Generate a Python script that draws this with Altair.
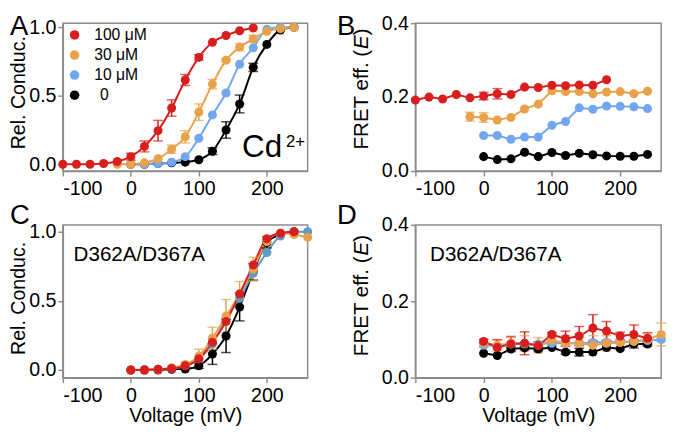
import altair as alt
import pandas as pd

FONT = "Liberation Sans"
RED, ORANGE, BLUE, BLUE_C, BLACK = "#d81e1e", "#e9a24c", "#72a7ef", "#5e9bc6", "#000000"
SERIES = ["100 μM", "30 μM", "10 μM", "0"]
LEGEND_INDENT = [0, 0, 0, 6]
GREY = "#8c8c8c"

# ---------------- Panel A: Rel. conductance with Cd2+ ----------------
A_v_red = list(range(-100, 181, 20))
A_red = [0.0, 0.0, 0.0, 0.005, 0.02, 0.055, 0.13, 0.245, 0.41, 0.615, 0.78, 0.89, 0.94, 0.975, 0.995]
A_red_err = [0, 0, 0, 0, 0, 0.025, 0.04, 0.075, 0.06, 0.04, 0.02, 0, 0, 0, 0]
A_v_org = list(range(-20, 241, 20))
A_org = [0.0, 0.0, 0.01, 0.04, 0.11, 0.2, 0.38, 0.585, 0.76, 0.855, 0.915, 0.97, 0.99, 1.0]
A_org_err = [0, 0, 0, 0, 0.03, 0.045, 0.06, 0.035, 0.01, 0.025, 0.025, 0, 0, 0]
A_v_blu = list(range(0, 241, 20))
A_blu = [0.0, 0.0, 0.005, 0.015, 0.055, 0.19, 0.36, 0.52, 0.73, 0.85, 0.985, 1.0, 1.0]
A_v_blk = list(range(0, 241, 20))
A_blk = [0.0, 0.0, 0.005, 0.01, 0.015, 0.033, 0.095, 0.25, 0.44, 0.707, 0.875, 0.98, 1.0]
A_blk_err = [0, 0, 0, 0, 0, 0, 0.025, 0.06, 0.065, 0.03, 0, 0, 0]

# ---------------- Panel B: FRET efficiency with Cd2+ ----------------
B_v_red = list(range(-100, 181, 20))
B_red = [0.192, 0.2, 0.195, 0.207, 0.198, 0.203, 0.209, 0.207, 0.227, 0.226, 0.232, 0.231, 0.233, 0.232, 0.247]
B_red_err = [0, 0, 0, 0, 0, 0.01, 0.014, 0, 0, 0, 0, 0, 0, 0, 0]
B_v_org = list(range(-20, 241, 20))
B_org = [0.147, 0.145, 0.138, 0.145, 0.168, 0.181, 0.217, 0.215, 0.215, 0.209, 0.214, 0.215, 0.209, 0.216]
B_org_err = [0.012, 0.013, 0, 0, 0, 0, 0, 0, 0, 0, 0, 0, 0, 0]
B_v_blu = list(range(0, 241, 20))
B_blu = [0.096, 0.096, 0.086, 0.092, 0.092, 0.124, 0.134, 0.171, 0.167, 0.176, 0.175, 0.174, 0.169]
B_v_blk = list(range(0, 241, 20))
B_blk = [0.039, 0.031, 0.033, 0.051, 0.039, 0.050, 0.042, 0.048, 0.044, 0.041, 0.040, 0.040, 0.045]

# ---------------- Panel C: Rel. conductance, D362A/D367A ----------------
C_v_red = list(range(0, 241, 20))
C_red = [0.0, 0.0, 0.005, 0.01, 0.03, 0.08, 0.2, 0.35, 0.55, 0.76, 0.95, 0.99, 1.0]
C_v_org = list(range(0, 261, 20))
C_org = [0.0, 0.0, 0.003, 0.015, 0.04, 0.1, 0.23, 0.39, 0.55, 0.73, 0.93, 0.99, 0.98, 0.96]
C_org_err = [0, 0, 0, 0, 0.015, 0.05, 0.08, 0.12, 0.09, 0.085, 0.03, 0, 0, 0]
C_v_blu = list(range(0, 261, 20))
C_blu = [0.0, 0.003, 0.005, 0.01, 0.03, 0.08, 0.19, 0.37, 0.52, 0.7, 0.85, 0.97, 1.0, 1.0]
C_v_blk = list(range(0, 241, 20))
C_blk = [0.0, 0.0, 0.0, 0.005, 0.007, 0.03, 0.115, 0.246, 0.455, 0.71, 0.923, 0.98, 1.0]
C_blk_err = [0, 0, 0, 0, 0, 0.02, 0.075, 0.12, 0.1, 0.06, 0.04, 0, 0]

# ---------------- Panel D: FRET efficiency, D362A/D367A ----------------
D_v_red = list(range(0, 241, 20))
D_red = [0.095, 0.079, 0.088, 0.09, 0.084, 0.113, 0.102, 0.109, 0.13, 0.122, 0.109, 0.113, 0.103]
D_red_err = [0.005, 0.02, 0.02, 0.03, 0.01, 0.005, 0.02, 0.025, 0.035, 0.025, 0.01, 0.025, 0.015]
D_v_org = list(range(0, 261, 20))
D_org = [0.09, 0.085, 0.09, 0.09, 0.085, 0.098, 0.09, 0.09, 0.085, 0.09, 0.092, 0.095, 0.1, 0.113]
D_org_err = [0, 0.015, 0.015, 0.02, 0.02, 0.015, 0.02, 0.025, 0.025, 0.02, 0.02, 0.015, 0.015, 0.03]
D_v_blu = list(range(0, 261, 20))
D_blu = [0.085, 0.083, 0.088, 0.088, 0.088, 0.09, 0.09, 0.09, 0.092, 0.093, 0.094, 0.095, 0.097, 0.1]
D_blu_err = [0.005] * 14
D_v_blk = list(range(0, 241, 20))
D_blk = [0.064, 0.058, 0.075, 0.078, 0.075, 0.079, 0.067, 0.067, 0.067, 0.079, 0.076, 0.088, 0.088]
D_blk_err = [0, 0, 0.005, 0.005, 0.005, 0, 0.005, 0.01, 0, 0, 0, 0.01, 0.005]


def frame(series_list):
    rows = []
    for name, vs, ys, errs in series_list:
        for i, (v, y) in enumerate(zip(vs, ys)):
            rows.append({"series": name, "v": v, "y": y, "err": errs[i] if errs else 0})
    return pd.DataFrame(rows)


def txt(s, x, y, size, align="left", angle=0, italic=False, baseline="alphabetic"):
    return alt.Chart(pd.DataFrame({"t": [s]})).mark_text(
        font=FONT, fontSize=size, align=align, baseline=baseline, angle=angle,
        fontStyle="italic" if italic else "normal", color="black"
    ).encode(x=alt.value(x), y=alt.value(y), text="t:N")


def legend_entries(labels, colors, indents, x0, y0, step):
    parts = []
    for i, (lab, c, ind) in enumerate(zip(labels, colors, indents)):
        parts.append(alt.Chart(pd.DataFrame({"t": [lab]})).mark_circle(size=95, opacity=1, color=c)
                     .encode(x=alt.value(x0), y=alt.value(y0 + step * i)))
        parts.append(txt(lab, x0 + 20 + ind, y0 + step * i, 16, baseline="middle"))
    return parts


def panel(df, ydom, yvals, colors, w, h, smooth, xtitle, extras):
    xaxis = alt.Axis(values=[-100, 0, 100, 200], labelExpr="'' + datum.value", title=xtitle)
    xenc = alt.X("v:Q", scale=alt.Scale(domain=[-100, 260], nice=False, zero=False), axis=xaxis)
    yaxis = alt.Axis(values=yvals, format=".1f", title=None)
    yscale = alt.Scale(domain=ydom, nice=False, zero=False)
    col = alt.Color("series:N", scale=alt.Scale(domain=SERIES, range=colors), legend=None)
    base = alt.Chart(df)
    lines = base.mark_line(strokeWidth=2, interpolate="monotone" if smooth else "linear").encode(
        x=xenc, y=alt.Y("y:Q", scale=yscale, axis=yaxis), color=col)
    eb = base.transform_filter("datum.err > 0").transform_calculate(
        lo="datum.y - datum.err", hi="datum.y + datum.err")
    rules = eb.mark_rule(strokeWidth=1.5).encode(
        x=xenc, y=alt.Y("lo:Q", scale=yscale, axis=yaxis), y2=alt.Y2("hi:Q"), color=col)
    caps = eb.transform_fold(["lo", "hi"], as_=["k", "e"]).mark_tick(
        orient="horizontal", size=10, thickness=1.5).encode(
        x=xenc, y=alt.Y("e:Q", scale=yscale, axis=yaxis), color=col)
    pts = base.mark_circle(size=85, opacity=1).encode(
        x=xenc, y=alt.Y("y:Q", scale=yscale, axis=yaxis), color=col)
    return alt.layer(lines, rules, caps, pts, *extras).properties(width=w, height=h)


ser_colors = [RED, ORANGE, BLUE, BLACK]
ser_colors_c = [RED, ORANGE, BLUE_C, BLACK]

dfA = frame([(SERIES[3], A_v_blk, A_blk, A_blk_err), (SERIES[2], A_v_blu, A_blu, None),
             (SERIES[1], A_v_org, A_org, A_org_err), (SERIES[0], A_v_red, A_red, A_red_err)])
dfB = frame([(SERIES[3], B_v_blk, B_blk, None), (SERIES[2], B_v_blu, B_blu, None),
             (SERIES[1], B_v_org, B_org, B_org_err), (SERIES[0], B_v_red, B_red, B_red_err)])
dfC = frame([(SERIES[3], C_v_blk, C_blk, C_blk_err), (SERIES[2], C_v_blu, C_blu, None),
             (SERIES[1], C_v_org, C_org, C_org_err), (SERIES[0], C_v_red, C_red, None)])
dfD = frame([(SERIES[3], D_v_blk, D_blk, D_blk_err), (SERIES[2], D_v_blu, D_blu, D_blu_err),
             (SERIES[1], D_v_org, D_org, D_org_err), (SERIES[0], D_v_red, D_red, D_red_err)])

W1, W2, HT, HB = 250, 251, 151, 156


def fret_title(yc):
    return [txt("FRET eff. (", -48, yc + 62, 21, angle=270),
            txt("E", -48, yc + 62 - 102.7, 21, angle=270, italic=True),
            txt(")", -48, yc + 62 - 116.7, 21, angle=270)]


A = panel(dfA, [-0.05, 1.03], [0, 0.5, 1.0], ser_colors, W1, HT, True, None,
          [txt("A", -54, 12, 28), txt("Rel. Conduc.", -39, 71, 20, align="center", angle=270),
           txt("Cd", 183, 137, 32), txt("2+", 228, 126, 17)]
          + legend_entries(SERIES, ser_colors, LEGEND_INDENT, 12, 12, 20.5))
B = panel(dfB, [0, 0.4], [0, 0.2, 0.4], ser_colors, W2, HT, False, None,
          [txt("B", -80, 12, 28)] + fret_title(67))
C = panel(dfC, [-0.056, 1.05], [0, 0.5, 1.0], ser_colors_c, W1, HB, True, "Voltage (mV)",
          [txt("C", -54, -1, 28), txt("Rel. Conduc.", -39, 75, 20, align="center", angle=270),
           txt("D362A/D367A", 11, 37, 21)])
D = panel(dfD, [0, 0.4], [0, 0.2, 0.4], ser_colors, W2, HB, False, "Voltage (mV)",
          [txt("D", -80, -1, 28), txt("D362A/D367A", 15, 37, 21)] + fret_title(72))

chart = alt.concat(
    A, B, C, D, columns=2, spacing={"row": 55, "column": 110}, bounds="flush"
).resolve_scale(
    color="independent"
).properties(
    padding={"left": 0, "top": 0, "right": 2, "bottom": 2}
).configure_view(
    stroke=GREY, strokeWidth=1.5
).configure_axis(
    grid=False, domainColor=GREY, domainWidth=1.5, tickColor=GREY, tickWidth=1.5, tickSize=5,
    labelFont=FONT, labelFontSize=20, labelColor="black", labelPadding=2,
    titleFont=FONT, titleFontSize=20, titleFontWeight="normal", titleColor="black", titlePadding=1
).configure_axisX(labelPadding=3)

chart.save("out.html", embed_options={"renderer": "svg", "actions": False})
